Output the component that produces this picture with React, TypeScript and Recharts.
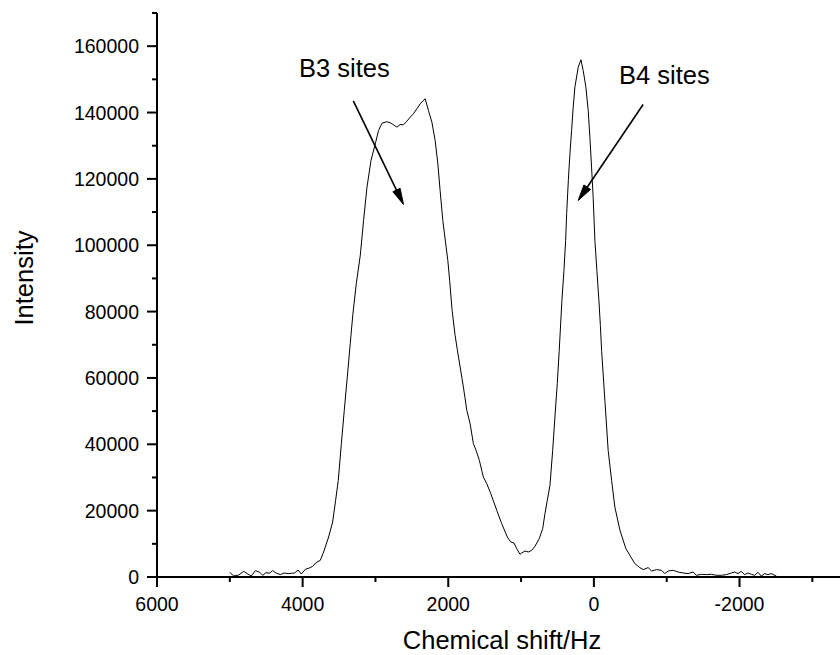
import React from 'react';
import { LineChart, Line, XAxis, YAxis, ReferenceLine, ReferenceDot, Label } from 'recharts';

const shiftHz = [
  5001, 4946, 4877, 4809, 4762, 4707, 4648, 4589, 4548, 4502, 4456, 4411, 4365, 4305, 4255, 4200, 4155, 4109,
  4063, 4018, 3963, 3908, 3862, 3816, 3757, 3712, 3643, 3588, 3547, 3510, 3469, 3428, 3387, 3346, 3311, 3263,
  3208, 3163, 3116, 3061, 3002, 2957, 2910, 2842, 2797, 2752, 2705, 2660, 2615, 2568, 2523, 2478, 2431, 2386,
  2317, 2272, 2225, 2180, 2143, 2112, 2075, 2029, 2006, 1981, 1947, 1906, 1874, 1837, 1792, 1745, 1700, 1655,
  1618, 1573, 1518, 1471, 1416, 1334, 1266, 1189, 1142, 1097, 1060, 1015, 993, 946, 901, 854, 809, 750, 703,
  672, 640, 603, 566, 535, 503, 476, 439, 411, 388, 374, 351, 329, 306, 284, 261, 215, 178, 147, 110, 78, 55,
  32, 10, -14, -41, -69, -89, -106, -151, -196, -243, -288, -357, -439, -494, -562, -631, -677, -745, -792,
  -860, -929, -974, -1019, -1088, -1157, -1225, -1294, -1362, -1409, -1477, -1545, -1614, -1682, -1751, -1820,
  -1888, -1933, -1979, -2025, -2070, -2116, -2162, -2208, -2253, -2299, -2345, -2390, -2436, -2505,
];

const intensity = [
  1416, 301, 603, 1717, 1024, 301, 1928, 1416, 512, 1326, 1115, 1928, 1205, 723, 1205, 1024, 1115, 1205,
  2109, 904, 2320, 2712, 3224, 4339, 5032, 7533, 12053, 16573, 23110, 29137, 39985, 50230, 60200, 70420, 79000, 88400,
  97000, 107480, 117510, 125560, 130590, 134600, 136800, 137220, 136920, 136310, 135590, 136400, 136310, 137400, 138600, 139630, 141140, 142640,
  144150, 140620, 137100, 131580, 124560, 116520, 107480, 99430, 95420, 89400, 80360, 72830, 68310, 63280, 57250, 50230, 46220, 40190,
  38170, 35160, 30130, 28140, 25130, 20100, 16090, 12053, 10546, 10245, 8557, 6840, 7232, 7834, 7533, 8045, 9250, 11570, 14580,
  19100, 23110, 27630, 38180, 48210, 58270, 68310, 83370, 92410, 101450, 109500, 119530, 127570, 134600, 141620, 147640, 153670, 155900, 152680, 147640, 140620, 132580,
  123540, 114500, 101450, 92410, 83370, 75830, 68310, 53240, 38180, 29140, 21090, 14160, 8557, 6540, 4040, 2832, 2230, 2832, 1808,
  2230, 2020, 1024, 1808, 2020, 1507, 1205, 1024, 1507, 512, 814, 723, 814, 512, 512, 723,
  1205, 1507, 1024, 1717, 723, 1205, 814, 512, 1416, 301, 1024, 723, 1024, 301,
];

const xTicks = [6000, 5000, 4000, 3000, 2000, 1000, 0, -1000, -2000, -3000];
const xMajorTicks = [6000, 4000, 2000, 0, -2000];
const yTicks = [0, 10000, 20000, 30000, 40000, 50000, 60000, 70000, 80000, 90000, 100000, 110000, 120000, 130000, 140000, 150000, 160000, 170000];
const yMajorTicks = [0, 20000, 40000, 60000, 80000, 100000, 120000, 140000, 160000];

const annotationText = ['B3 sites', 'B4 sites'];
const annotationHz = [4050, -345];
const annotationIntensity = [150700, 148600];
const arrowFromHz = [3304, -676];
const arrowFromIntensity = [143500, 142400];
const arrowToHz = [2615, 215];
const arrowToIntensity = [112300, 113500];

const data = shiftHz.map((hz, i) => ({ hz, intensity: intensity[i] }));

const FONT = '"Liberation Sans", Arial, Helvetica, sans-serif';
const TICK_FONT = 19.5;
const TITLE_FONT = 25.5;

const XTick = (props: any) => {
  const { x, y, payload } = props;
  const major = xMajorTicks.includes(payload.value);
  return (
    <g>
      <line x1={x} x2={x} y1={y} y2={y + (major ? 10 : 5)} stroke="#000" strokeWidth={2} />
      {major && (
        <text x={x} y={y + 34} textAnchor="middle" fontSize={TICK_FONT} fontFamily={FONT} fill="#000">
          {payload.value}
        </text>
      )}
    </g>
  );
};

const YTick = (props: any) => {
  const { x, y, payload } = props;
  const major = yMajorTicks.includes(payload.value);
  return (
    <g>
      <line x1={x} x2={x - (major ? 10 : 5)} y1={y} y2={y} stroke="#000" strokeWidth={2} />
      {major && (
        <text x={x - 18} y={y + 7} textAnchor="end" fontSize={TICK_FONT} fontFamily={FONT} fill="#000">
          {payload.value}
        </text>
      )}
    </g>
  );
};

const Arrow = (props: any) => {
  const { x1, y1, x2, y2 } = props;
  const dx = x2 - x1;
  const dy = y2 - y1;
  const len = Math.sqrt(dx * dx + dy * dy) || 1;
  const ux = dx / len;
  const uy = dy / len;
  const hl = 16;
  const hw = 4;
  const bx = x2 - ux * hl;
  const by = y2 - uy * hl;
  const pts = `${x2},${y2} ${bx - uy * hw},${by + ux * hw} ${bx + uy * hw},${by - ux * hw}`;
  return (
    <g>
      <line x1={x1} y1={y1} x2={bx} y2={by} stroke="#000" strokeWidth={1.6} />
      <polygon points={pts} fill="#000" stroke="#000" strokeWidth={1} />
    </g>
  );
};

const makeTextShape = (txt: string) => (props: any) => (
  <text x={props.cx} y={props.cy} fontSize={TITLE_FONT} fontFamily={FONT} fill="#000">
    {txt}
  </text>
);

export default function App() {
  return (
    <div style={{ position: 'absolute', left: 0, top: 0, width: 840, height: 655, background: '#fff' }}>
      <LineChart width={840} height={655} data={data} margin={{ top: 13, right: 0, bottom: 0, left: 0 }}>
        <XAxis
          dataKey="hz"
          type="number"
          domain={[-3380, 6000]}
          reversed
          allowDataOverflow
          ticks={xTicks}
          interval={0}
          tickSize={0}
          tickMargin={0}
          tickLine={false}
          tick={<XTick />}
          axisLine={{ stroke: '#000', strokeWidth: 2 }}
          height={78}
        >
          <Label
            content={(p: any) => {
              const vb = p.viewBox;
              return (
                <text x={vb.x + vb.width / 2 + 3.5} y={vb.y + 72} textAnchor="middle" fontSize={TITLE_FONT} fontFamily={FONT} fill="#000">
                  Chemical shift/Hz
                </text>
              );
            }}
          />
        </XAxis>
        <YAxis
          type="number"
          domain={[0, 170000]}
          allowDataOverflow
          ticks={yTicks}
          interval={0}
          tickSize={0}
          tickMargin={0}
          tickLine={false}
          tick={<YTick />}
          axisLine={{ stroke: '#000', strokeWidth: 2 }}
          width={157}
        >
          <Label
            content={(p: any) => {
              const vb = p.viewBox;
              const cx = vb.x + 33;
              const cy = vb.y + vb.height / 2 - 17;
              return (
                <text x={cx} y={cy} transform={`rotate(-90 ${cx} ${cy})`} textAnchor="middle" fontSize={TITLE_FONT} fontFamily={FONT} fill="#000">
                  Intensity
                </text>
              );
            }}
          />
        </YAxis>
        <Line
          type="linear"
          dataKey="intensity"
          stroke="#000"
          strokeWidth={1}
          dot={false}
          activeDot={false}
          isAnimationActive={false}
        />
        {annotationText.map((t, i) => (
          <ReferenceLine
            key={'arrow' + i}
            segment={[
              { x: arrowFromHz[i], y: arrowFromIntensity[i] },
              { x: arrowToHz[i], y: arrowToIntensity[i] },
            ]}
            ifOverflow="visible"
            shape={Arrow}
          />
        ))}
        {annotationText.map((t, i) => (
          <ReferenceDot
            key={'label' + i}
            x={annotationHz[i]}
            y={annotationIntensity[i]}
            ifOverflow="visible"
            shape={makeTextShape(t)}
          />
        ))}
      </LineChart>
    </div>
  );
}
